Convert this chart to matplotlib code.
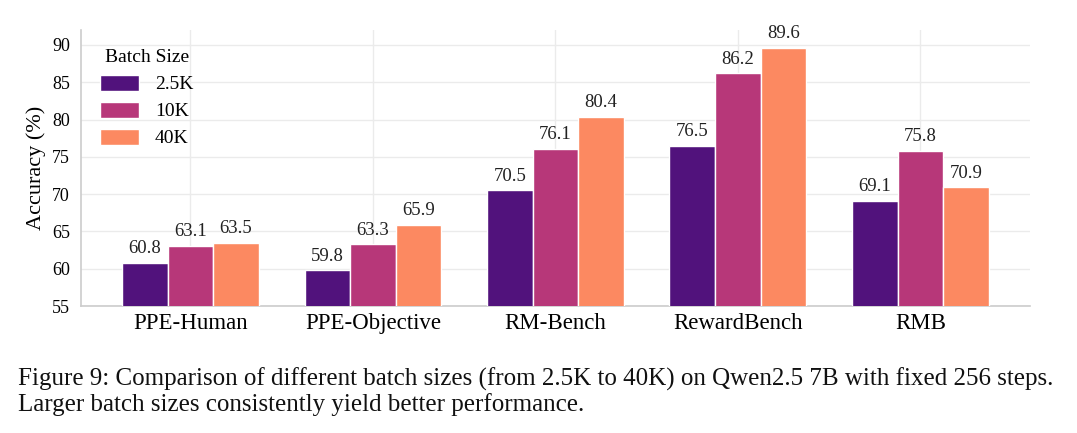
import matplotlib.pyplot as plt
import numpy as np

# Data
benchmarks = ['PPE-Human', 'PPE-Objective', 'RM-Bench', 'RewardBench', 'RMB']
batch_sizes = ['2.5K', '10K', '40K']
acc_2_5k = [60.8, 59.8, 70.5, 76.5, 69.1]
acc_10k = [63.1, 63.3, 76.1, 86.2, 75.8]
acc_40k = [63.5, 65.9, 80.4, 89.6, 70.9]
colors = ['#51127c', '#b73779', '#fc8961']

plt.rcParams['font.family'] = ['Liberation Serif', 'DejaVu Serif']

fig = plt.figure(figsize=(10.77, 4.33), dpi=100)
ax = fig.add_axes([0.0752, 0.2933, 0.881, 0.6374])

x = np.arange(len(benchmarks))
width = 0.25
for i, (vals, lab) in enumerate(zip([acc_2_5k, acc_10k, acc_40k], batch_sizes)):
    bars = ax.bar(x + (i - 1) * width, vals, width, label=lab, color=colors[i],
                  edgecolor='white', linewidth=1, zorder=3)
    ax.bar_label(bars, labels=[f'{v:.1f}' for v in vals], padding=4,
                 fontsize=13.5, color='#222222')

ax.set_ylim(55, 92)
ax.set_xlim(-0.6, 4.6)
ax.set_yticks(range(55, 91, 5))
ax.set_xticks(x)
ax.set_xticklabels(benchmarks, fontsize=16.5)
ax.tick_params(axis='y', labelsize=13, length=0, pad=8)
ax.tick_params(axis='x', length=0, pad=5)
ax.set_ylabel('Accuracy (%)', fontsize=16)

ax.grid(True, color='#ebebeb', linewidth=1, zorder=0)
ax.set_axisbelow(True)
for s in ['top', 'right']:
    ax.spines[s].set_visible(False)
for s in ['left', 'bottom']:
    ax.spines[s].set_color('#cccccc')
    ax.spines[s].set_linewidth(1.2)

leg = ax.legend(title='Batch Size', loc='upper left', frameon=False,
                fontsize=14, title_fontsize=14, handlelength=2.0,
                handleheight=0.9, labelspacing=0.42, borderaxespad=0.6)

fig.text(0.017, 0.1085, 'Figure 9: Comparison of different batch sizes (from 2.5K to 40K) on Qwen2.5 7B with fixed 256 steps.',
         fontsize=18, va='baseline', ha='left', color='#111111')
fig.text(0.017, 0.0508, 'Larger batch sizes consistently yield better performance.',
         fontsize=18, va='baseline', ha='left', color='#111111')

fig.savefig('out.png', dpi=100)
